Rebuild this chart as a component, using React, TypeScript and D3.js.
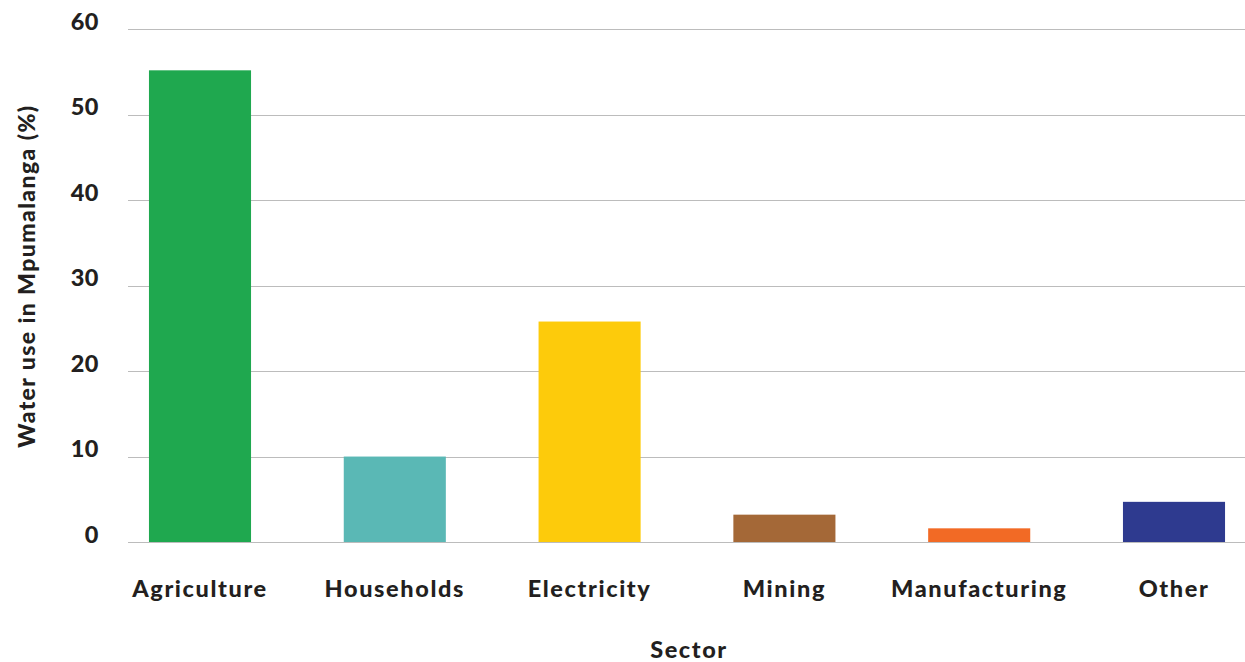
import React from "react";
import * as d3 from "d3";

const sectors = ["Agriculture", "Households", "Electricity", "Mining", "Manufacturing", "Other"];
const waterUse = [55.2, 10, 25.8, 3.2, 1.6, 4.7];
const barColors = ["#1fa84f", "#5ab8b5", "#fdcb0b", "#a46837", "#f26a25", "#2e3a8f"];
const yTicks = [0, 10, 20, 30, 40, 50, 60];

const W = 1245;
const H = 662;
const FONT = "Lato, 'Open Sans', sans-serif";
const INK = "#231f20";

export default function App() {
  const plotLeft = 128;
  const plotRight = 1245;
  const y = d3.scaleLinear().domain([0, 60]).range([542, 29.3]);
  const x = d3
    .scaleBand<string>()
    .domain(sectors)
    .range([102.6, 1271.4])
    .paddingInner(0.476)
    .paddingOuter(0.238);

  return (
    <svg
      width={W}
      height={H}
      style={{ position: "absolute", left: 0, top: 0, background: "#fff" }}
      fontFamily={FONT}
    >
      {yTicks.map((t) => (
        <g key={t}>
          <line
            x1={plotLeft}
            x2={plotRight}
            y1={Math.round(y(t)) + 0.5}
            y2={Math.round(y(t)) + 0.5}
            stroke="#bcbcbc"
            strokeWidth={1.2}
          />
          <text
            x={99}
            y={y(t) + 0.5}
            textAnchor="end"
            fontSize={23.5}
            fontWeight={900}
            letterSpacing={0.5}
            fill={INK}
          >
            {t}
          </text>
        </g>
      ))}
      {sectors.map((s, i) => (
        <rect
          key={s}
          x={x(s)}
          y={y(waterUse[i])}
          width={x.bandwidth()}
          height={y(0) - y(waterUse[i])}
          fill={barColors[i]}
        />
      ))}
      {sectors.map((s) => (
        <text
          key={s}
          x={(x(s) ?? 0) + x.bandwidth() / 2}
          y={597}
          textAnchor="middle"
          fontSize={23.5}
          fontWeight={900}
          letterSpacing={1.6}
          fill={INK}
        >
          {s}
        </text>
      ))}
      <text
        x={689}
        y={658}
        textAnchor="middle"
        fontSize={23.5}
        fontWeight={900}
        letterSpacing={1.6}
        fill={INK}
      >
        Sector
      </text>
      <text
        transform="translate(35,276) rotate(-90)"
        textAnchor="middle"
        fontSize={23}
        fontWeight={900}
        letterSpacing={1.4}
        fill={INK}
      >
        Water use in Mpumalanga (%)
      </text>
    </svg>
  );
}
